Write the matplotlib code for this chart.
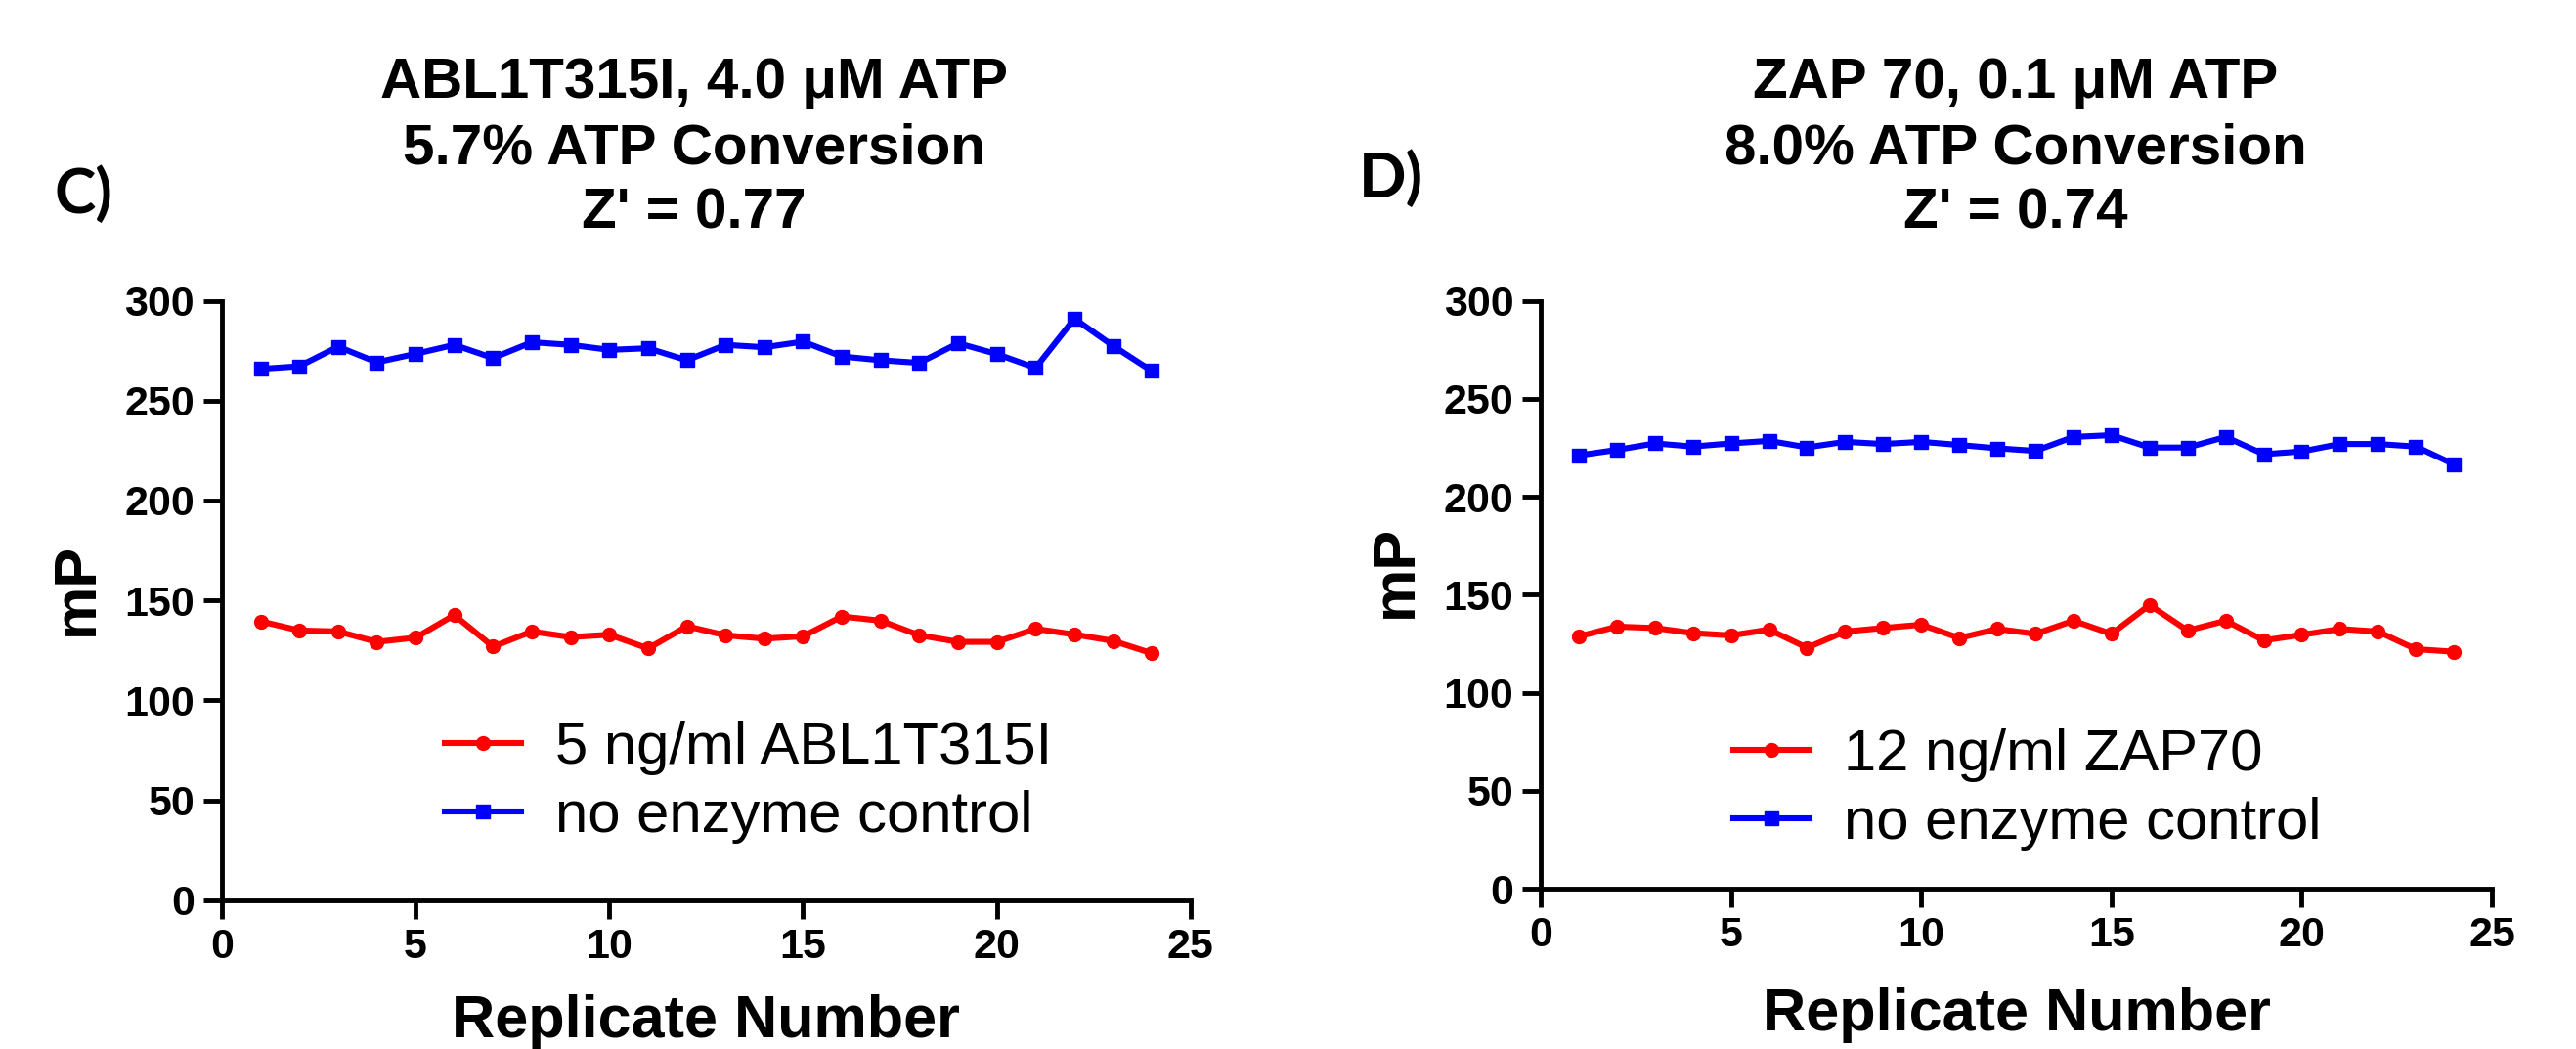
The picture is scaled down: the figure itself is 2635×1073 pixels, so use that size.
import matplotlib
matplotlib.use("Agg")
import matplotlib.pyplot as plt

plt.rcParams["font.family"] = ["Liberation Sans", "DejaVu Sans"]

replicates = list(range(1, 25))

# panel C: ABL1T315I
abl_enzyme = [139.6, 135.0, 134.5, 129.3, 131.4, 142.7, 126.9, 134.5, 131.7, 132.9,
              126.0, 137.1, 132.6, 130.9, 132.1, 142.0, 139.9, 132.6, 129.3, 129.3,
              135.8, 133.0, 129.8, 123.6]
abl_control = [265.9, 267.2, 277.0, 269.2, 273.4, 277.9, 271.3, 279.2, 277.9, 275.4,
               276.2, 270.2, 277.9, 276.7, 279.5, 272.1, 270.2, 268.9, 278.7, 273.3,
               266.4, 291.0, 277.4, 264.8]

# panel D: ZAP70
zap_enzyme = [128.7, 133.7, 133.0, 130.4, 129.2, 132.2, 122.9, 131.2, 133.0, 134.7,
              127.9, 132.5, 130.0, 136.7, 130.0, 144.7, 131.7, 136.7, 126.7, 129.5,
              132.5, 131.2, 122.2, 120.9]
zap_control = [221.1, 223.9, 227.2, 225.6, 227.2, 228.5, 225.2, 228.0, 226.9, 228.0,
               226.4, 224.7, 223.4, 230.5, 231.4, 225.1, 225.1, 230.5, 221.7, 223.1,
               226.9, 226.9, 225.6, 216.5]

x_ticks = [0, 5, 10, 15, 20, 25]
y_ticks = [0, 50, 100, 150, 200, 250, 300]

panels = [
    dict(rect=[0.0861, 0.1417, 0.3761, 0.5717],
         enzyme=abl_enzyme, control=abl_control,
         enzyme_label="5 ng/ml ABL1T315I",
         title=["ABL1T315I, 4.0 \u03bcM ATP", "5.7% ATP Conversion", "Z' = 0.77"],
         title_x=710, letter="C)", letter_xy=(56, 218),
         leg_xy=(455, 738), ylab_y=0.52, xpad=20),
    dict(rect=[0.5981, 0.1528, 0.3693, 0.5606],
         enzyme=zap_enzyme, control=zap_control,
         enzyme_label="12 ng/ml ZAP70",
         title=["ZAP 70, 0.1 \u03bcM ATP", "8.0% ATP Conversion", "Z' = 0.74"],
         title_x=2062, letter="D)", letter_xy=(1390, 202),
         leg_xy=(1773, 745), ylab_y=0.54, xpad=24),
]

W, H = 2635, 1073
fig = plt.figure(figsize=(W / 100, H / 100), dpi=100)

for p in panels:
    ax = fig.add_axes(p["rect"])
    ax.plot(replicates, p["enzyme"], color="#ff0000", lw=4.4, marker="o",
            ms=10, mec="#ff0000", label=p["enzyme_label"], clip_on=False)
    ax.plot(replicates, p["control"], color="#0000ff", lw=4.4, marker="s",
            ms=10, mec="#0000ff", label="no enzyme control", clip_on=False)

    ax.set_xlim(0, 25)
    ax.set_ylim(0, 300)
    ax.set_xticks(x_ticks)
    ax.set_yticks(y_ticks)
    for side in ["top", "right"]:
        ax.spines[side].set_visible(False)
    for side in ["left", "bottom"]:
        ax.spines[side].set_linewidth(3.5)
    ax.tick_params(direction="out", length=14, width=3.5, labelsize=31, pad=6)
    for lab in ax.get_xticklabels() + ax.get_yticklabels():
        lab.set_fontweight("bold")
    ax.set_xlabel("Replicate Number", fontsize=44, fontweight="bold",
                  labelpad=p["xpad"])
    ax.set_ylabel("mP", fontsize=44, fontweight="bold", labelpad=14)
    ax.yaxis.label.set_y(p["ylab_y"])

    leg = ax.legend(loc="upper left", frameon=False, fontsize=43,
                    bbox_to_anchor=(p["leg_xy"][0] / W, 1 - p["leg_xy"][1] / H),
                    bbox_transform=fig.transFigure, borderpad=0, borderaxespad=0,
                    handlelength=1.3, handletextpad=0.6, labelspacing=0.25)

    for i, line in enumerate(p["title"]):
        fig.text(p["title_x"] / W, 1 - (100 + 67 * i) / H, line, ha="center",
                 va="baseline", fontsize=42, fontweight="bold")
    fig.text(p["letter_xy"][0] / W, 1 - p["letter_xy"][1] / H, p["letter"],
             ha="left", va="baseline", fontsize=46, fontweight="bold",
             family=["Lato", "DejaVu Sans"])

fig.savefig("out.png", dpi=100, facecolor="white")
